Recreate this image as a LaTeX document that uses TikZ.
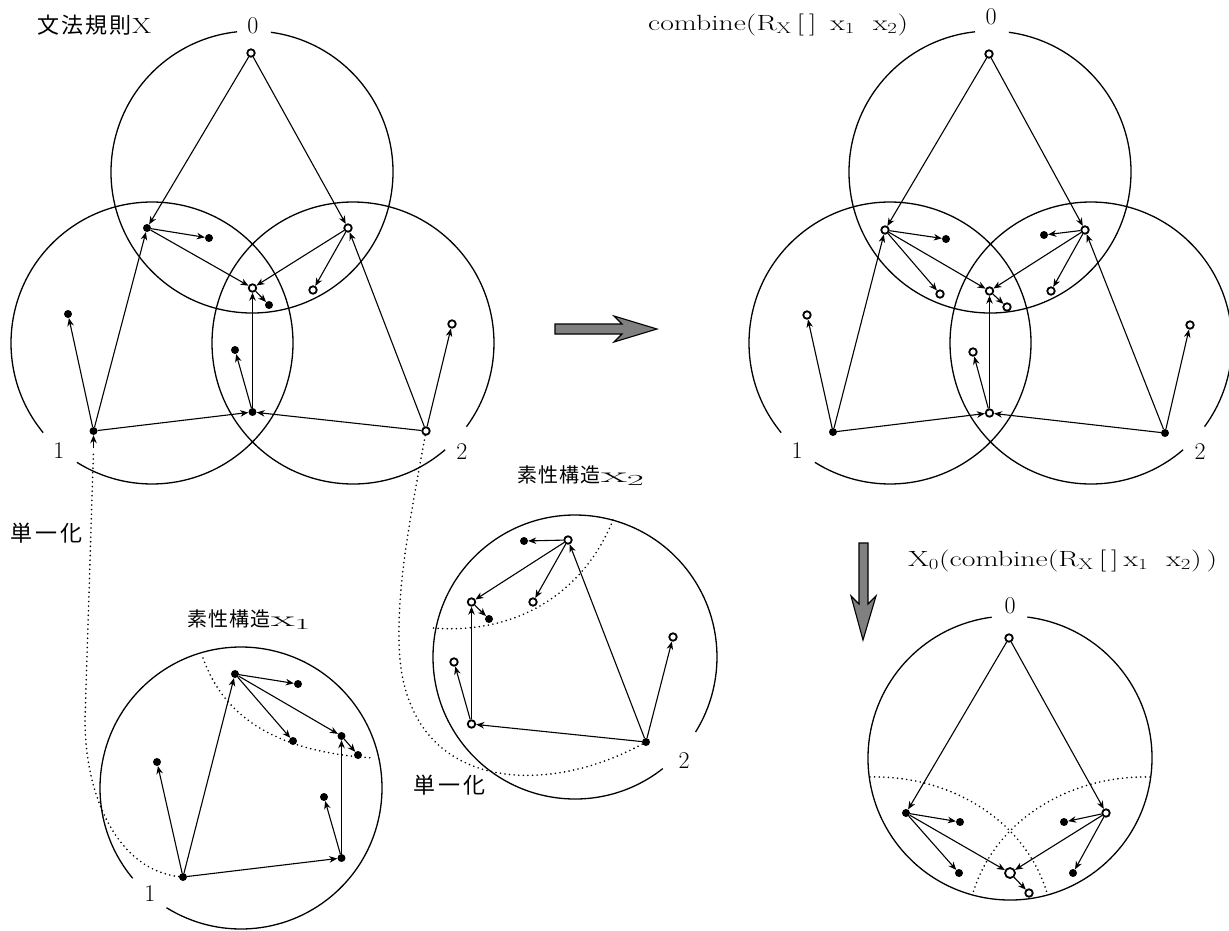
\documentclass[tikz,border=0pt]{standalone}
\usepackage{fontspec}
\usepackage{graphicx}
\newfontfamily\cjk{Noto Sans CJK JP}
\usetikzlibrary{arrows.meta}
\begin{document}
\begin{tikzpicture}[x=1pt,y=-1pt,
  fdot/.style={circle,fill=black,inner sep=0pt,minimum size=8pt},
  odot/.style={circle,draw=black,fill=white,line width=1.8pt,inner sep=0pt,minimum size=7.5pt},
  arr/.style={-{Stealth[length=8pt,width=6.5pt,inset=2.5pt]},line width=1.1pt},
  ring/.style={line width=1.3pt},
  dots/.style={line width=1.8pt,line cap=round,dash pattern=on 0pt off 4.6pt},
  lab/.style={inner sep=0pt,font=\fontsize{22pt}{24pt}\selectfont},
  num/.style={inner sep=0pt,font=\fontsize{24pt}{26pt}\selectfont},
  blockarrow/.style={draw=black,line width=1.1pt,fill=black!50}]
\fill[white] (0,0) rectangle (1229,930);
\useasboundingbox (0,0) rectangle (1229,930);

% ---------------- top-left: grammar rule X ----------------
\draw[ring] (252,172) ++(-82.3:141) arc[start angle=-82.3,end angle=263.9,radius=141];
\draw[ring] (152,343) ++(140.5:141) arc[start angle=140.5,end angle=482.2,radius=141];
\draw[ring] (353,343) ++(49.2:141) arc[start angle=49.2,end angle=396.4,radius=141];
\node[num] (l0) at (253,26) {0};
\node[num] (l1) at (59,451) {1};
\node[num] (l2) at (462,452) {2};
\node[lab,anchor=west] (title) at (37,25) {{\cjk 文\kern2pt法\kern2pt規\kern2pt則}\kern1pt\resizebox{19pt}{\height}{X}};

\node[odot] (n0) at (251,53) {};
\node[fdot] (a) at (147,228) {};
\node[fdot] (a1) at (209,238) {};
\node[odot] (b) at (348,228) {};
\node[odot] (bd) at (313,290) {};
\node[odot] (c) at (252.5,288) {};
\node[fdot] (c1) at (269,305) {};
\node[fdot] (p1) at (93.5,431) {};
\node[fdot] (p1a) at (68,314) {};
\node[odot] (p2) at (426,431) {};
\node[odot] (p2a) at (452,324) {};
\node[fdot] (d) at (252.5,412) {};
\node[fdot] (d1) at (235,350) {};
\draw[arr] (n0) -- (a);
\draw[arr] (n0) -- (b);
\draw[arr] (a) -- (a1);
\draw[arr] (a) -- (c);
\draw[arr] (b) -- (bd);
\draw[arr] (b) -- (c);
\draw[arr] (c) -- (c1);
\draw[arr] (p1) -- (a);
\draw[arr] (p1) -- (p1a);
\draw[arr] (p1) -- (d);
\draw[arr] (p2) -- (b);
\draw[arr] (p2) -- (p2a);
\draw[arr] (p2) -- (d);
\draw[arr] (d) -- (c);
\draw[arr] (d) -- (d1);

% ---------------- top-right: combine ----------------
\begin{scope}[shift={(738,0)},name prefix=R-]
\draw[ring] (252,172) ++(-82.3:141) arc[start angle=-82.3,end angle=263.9,radius=141];
\draw[ring] (152,343) ++(140.5:141) arc[start angle=140.5,end angle=482.2,radius=141];
\draw[ring] (353,343) ++(49.2:141) arc[start angle=49.2,end angle=396.4,radius=141];
\node[num] (l0) at (253,17) {0};
\node[num] (l1) at (59,451) {1};
\node[num] (l2) at (462,452) {2};
\node[odot] (n0) at (251,54) {};
\node[odot] (a) at (147,230) {};
\node[fdot] (a1) at (208,239) {};
\node[odot] (ad) at (202,294) {};
\node[odot] (b) at (347,230) {};
\node[fdot] (bl) at (306,235) {};
\node[odot] (bd) at (313,291) {};
\node[odot] (c) at (251.5,291) {};
\node[odot] (c1) at (269,307) {};
\node[fdot] (p1) at (95,432) {};
\node[odot] (p1a) at (69,315) {};
\node[odot] (d) at (251.5,413) {};
\node[odot] (d1) at (235,352) {};
\node[fdot] (p2) at (427,433) {};
\node[odot] (p2a) at (452,325) {};
\draw[arr] (n0) -- (a);
\draw[arr] (n0) -- (b);
\draw[arr] (a) -- (a1);
\draw[arr] (a) -- (ad);
\draw[arr] (a) -- (c);
\draw[arr] (b) -- (bl);
\draw[arr] (b) -- (bd);
\draw[arr] (b) -- (c);
\draw[arr] (c) -- (c1);
\draw[arr] (p1) -- (a);
\draw[arr] (p1) -- (p1a);
\draw[arr] (p1) -- (d);
\draw[arr] (p2) -- (b);
\draw[arr] (p2) -- (p2a);
\draw[arr] (p2) -- (d);
\draw[arr] (d) -- (c);
\draw[arr] (d) -- (d1);
\end{scope}
\node[lab,anchor=west] (cmb) at (648,25) {\resizebox{260pt}{\height}{combine(R\textsubscript{X}\,[\,]\, x\textsubscript{1}\ \ x\textsubscript{2})}};

% ---------------- block arrows ----------------
\draw[blockarrow] (555,324) -- (622,324) -- (614,316) -- (657,329) -- (614,342) -- (622,334) -- (555,334) -- cycle;
\draw[blockarrow] (859,543) -- (868,543) -- (868,604) -- (876,596) -- (863,640) -- (851,596) -- (859,604) -- cycle;

% ---------------- bottom-left: feature structure x1 ----------------
\draw[ring] (241,788) ++(140.2:141) arc[start angle=140.2,end angle=481.9,radius=141];
\node[num] (q1l) at (150,894) {1};
\node[lab,anchor=west] (x1title) at (187,620) {{\fontsize{20pt}{22pt}\selectfont\cjk 素\kern1pt性\kern1pt構\kern1pt造}\kern1pt\resizebox{40pt}{\height}{x\textsubscript{1}}};
\draw[dots] (203,658) .. controls (225,720) and (280,752) .. (373,758);
\node[fdot] (q1) at (183,877) {};
\node[fdot] (q1a) at (157,762) {};
\node[fdot] (qa) at (235,674) {};
\node[fdot] (qa1) at (298,684) {};
\node[fdot] (qa2) at (293,741) {};
\node[fdot] (qc) at (341.5,736) {};
\node[fdot] (qc1) at (358,755) {};
\node[fdot] (qd) at (341.5,858) {};
\node[fdot] (qd1) at (324,797) {};
\draw[arr] (q1) -- (qa);
\draw[arr] (q1) -- (q1a);
\draw[arr] (q1) -- (qd);
\draw[arr] (qa) -- (qa1);
\draw[arr] (qa) -- (qa2);
\draw[arr] (qa) -- (qc);
\draw[arr] (qc) -- (qc1);
\draw[arr] (qd) -- (qc);
\draw[arr] (qd) -- (qd1);

% ---------------- bottom-middle: feature structure x2 ----------------
\draw[ring] (575,657) ++(51.8:142) arc[start angle=51.8,end angle=391.9,radius=142];
\node[num] (r2l) at (684,761) {2};
\node[lab,anchor=west] (x2title) at (517,476) {{\fontsize{20pt}{22pt}\selectfont\cjk 素\kern1pt性\kern1pt構\kern1pt造}\kern1pt\resizebox{44pt}{\height}{x\textsubscript{2}}};
\draw[dots] (613,520) .. controls (585,590) and (520,635) .. (433,628);
\node[fdot] (r2) at (646,742) {};
\node[odot] (r2a) at (673,637) {};
\node[odot] (rb) at (568,540) {};
\node[fdot] (rb1) at (524,541) {};
\node[odot] (rb2) at (533,602) {};
\node[odot] (rc) at (471.5,602) {};
\node[fdot] (rc1) at (489,619) {};
\node[odot] (rd) at (471.5,724) {};
\node[odot] (rd1) at (454,662) {};
\draw[arr] (r2) -- (rb);
\draw[arr] (r2) -- (r2a);
\draw[arr] (r2) -- (rd);
\draw[arr] (rb) -- (rb1);
\draw[arr] (rb) -- (rb2);
\draw[arr] (rb) -- (rc);
\draw[arr] (rc) -- (rc1);
\draw[arr] (rd) -- (rc);
\draw[arr] (rd) -- (rd1);

% ---------------- unification lines ----------------
\node[lab,anchor=west] (uni1) at (10,533) {\cjk 単\kern3pt一\kern3pt化};
\node[lab,anchor=west] (uni2) at (413,785) {\cjk 単\kern3pt一\kern3pt化};
\coordinate (u1) at (85,720);
\coordinate (u2) at (399,640);
\coordinate (u1top) at (93.5,448);
\draw[dots] (q1) .. controls (120,870) and (85,800) .. (u1) -- (93.5,450);
\draw[arr] (u1top) -- (p1);
\draw[dots] (p2) .. controls (410,520) and (398,580) .. (u2) .. controls (400,790) and (540,800) .. (r2);

% ---------------- bottom-right: X0(combine(...)) ----------------
\node[lab,anchor=west] (x0title) at (908,561) {\resizebox{309pt}{\height}{X\textsubscript{0}(combine(R\textsubscript{X}\,[\,]\,x\textsubscript{1}\ \ x\textsubscript{2})\,)}};
\draw[ring] (1010,758) ++(-83:142) arc[start angle=-83,end angle=262.6,radius=142];
\node[num] (s0l) at (1010,606) {0};
\draw[dots] (870,777) .. controls (950,775) and (1025,820) .. (1047,893);
\draw[dots] (1150,777) .. controls (1070,775) and (995,820) .. (973,893);
\node[odot] (s0) at (1009,638) {};
\node[fdot] (sa) at (906,813) {};
\node[fdot] (sa1) at (960,822) {};
\node[fdot] (sa2) at (959,873) {};
\node[odot,minimum width=10pt] (sc) at (1010,873) {};
\node[odot] (sc1) at (1029,893) {};
\node[odot] (sb) at (1106,813) {};
\node[fdot] (sb1) at (1064,822) {};
\node[fdot] (sb2) at (1073,873) {};
\draw[arr] (s0) -- (sa);
\draw[arr] (s0) -- (sb);
\draw[arr] (sa) -- (sa1);
\draw[arr] (sa) -- (sa2);
\draw[arr] (sa) -- (sc);
\draw[arr] (sb) -- (sb1);
\draw[arr] (sb) -- (sb2);
\draw[arr] (sb) -- (sc);
\draw[arr] (sc) -- (sc1);
\end{tikzpicture}
\end{document}
